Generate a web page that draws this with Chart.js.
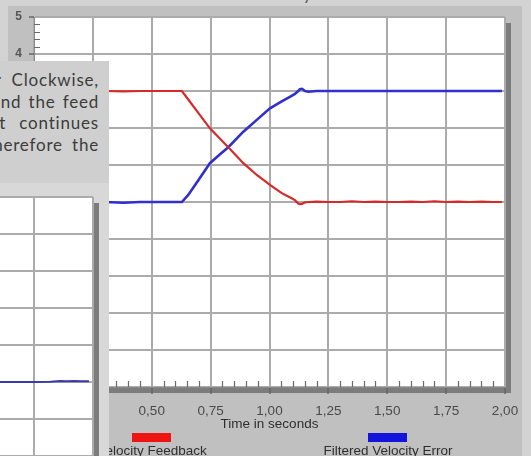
<!DOCTYPE html>
<html><head><meta charset="utf-8">
<script src="https://cdn.jsdelivr.net/npm/chart.js@4/dist/chart.umd.min.js"></script>
<style>
html,body{margin:0;padding:0;}
body{width:531px;height:456px;background:#d3d3d3;position:relative;overflow:hidden;font-family:"Liberation Sans",Arial,sans-serif;}
#panel{position:absolute;left:8px;top:6px;width:514px;height:450px;background:#c0c0c0;}
#main{position:absolute;left:0;top:0;}
#textbox{position:absolute;left:0;top:61px;width:109px;height:122px;background:#cfcfcf;overflow:hidden;}
.tl{position:absolute;right:10px;white-space:nowrap;font-family:Lato,"Open Sans",sans-serif;font-size:17px;line-height:17px;letter-spacing:0.8px;color:#3c3c3c;}
#mini{position:absolute;left:0;top:183px;width:109px;height:273px;background:#d8d8d8;overflow:hidden;}
#minicv{position:absolute;left:-143px;top:0;}
.lgbox{position:absolute;height:9px;width:39px;}
.lgtxt{position:absolute;width:200px;text-align:center;font-size:13.5px;line-height:12px;color:#2e2e2e;white-space:nowrap;}
#topy{position:absolute;left:303px;top:-15px;font-family:Lato,sans-serif;font-size:17px;line-height:17px;color:#555;}
</style></head>
<body>
<div id="topy">y</div>
<div id="panel"><canvas id="main" width="514" height="450"></canvas></div>
<div class="lgbox" style="left:132px;top:433px;background:#ee1414;"></div>
<div class="lgbox" style="left:368px;top:433px;background:#1414dc;"></div>
<div class="lgtxt" style="left:52px;top:445px;">Velocity Feedback</div>
<div class="lgtxt" style="left:288px;top:445px;">Filtered Velocity Error</div>
<div id="textbox">
  <div class="tl" style="top:10px;word-spacing:5px;">r Clockwise,</div>
  <div class="tl" style="top:32px;word-spacing:2px;">nd the feed</div>
  <div class="tl" style="top:53px;word-spacing:8px;">t continues</div>
  <div class="tl" style="top:75px;word-spacing:4px;">herefore the</div>
</div>
<div id="mini"><canvas id="minicv" width="256" height="404"></canvas></div>
<script>
// ---- data ----
const TIME = [0.00,0.10,0.20,0.30,0.38,0.45,0.50,0.60,0.628,0.655,0.70,0.747,0.79,0.825,0.889,0.946,1.002,1.052,1.094,1.108,1.122,1.129,1.138,1.151,1.165,1.20,1.25,1.30,1.35,1.40,1.45,1.50,1.55,1.60,1.65,1.70,1.75,1.80,1.85,1.90,1.95,1.987];
const VELOCITY_FEEDBACK = [3.00,3.00,3.01,3.00,2.99,3.00,3.00,3.00,3.00,2.77,2.39,1.99,1.71,1.48,1.05,0.73,0.46,0.24,0.10,0.05,-0.04,-0.06,-0.05,-0.01,0.00,0.01,0.00,0.00,0.02,0.00,0.01,0.00,0.00,0.01,0.00,0.02,0.00,0.01,0.00,0.01,0.00,0.00];
const FILTERED_VELOCITY_ERROR = [0.00,0.00,0.00,0.00,-0.02,0.00,0.00,0.00,0.00,0.19,0.61,1.05,1.29,1.48,1.90,2.22,2.53,2.72,2.87,2.92,3.00,3.05,3.06,3.00,2.98,3.00,3.00,3.00,3.00,3.00,3.00,3.00,3.00,3.00,3.00,3.00,3.00,3.00,3.00,3.00,3.00,3.00];
const MINI_TIME = [1.00,1.20,1.40,1.60,1.75,1.82,1.86,1.89,1.92,1.95,1.983];
const MINI_VALUES = [0.00,0.00,0.00,0.00,0.00,0.01,0.03,0.02,0.03,0.02,0.02];
const X_TICK_STEP = 0.25, X_MIN = 0, X_MAX = 2;
const Y_MIN = -5, Y_MAX = 5;

const pts = (xs, ys) => xs.map((x, i) => ({x, y: ys[i]}));
const fmt = v => Number(v).toFixed(2).replace('.', ',');

const decor = {
  id: 'decor',
  beforeDraw(chart) {
    const {ctx, chartArea: a} = chart;
    ctx.save();
    ctx.fillStyle = '#7c7c7c';
    ctx.fillRect(a.right + 1, a.top + 6, 5, a.bottom - a.top);
    ctx.fillRect(a.left, a.bottom + 1, a.right - a.left + 6, 5);
    ctx.fillStyle = '#ffffff';
    ctx.fillRect(a.left, a.top, a.right - a.left, a.bottom - a.top);
    ctx.restore();
  },
  afterDraw(chart, args, opts) {
    if (!opts.minor) return;
    const {ctx, chartArea: a, scales} = chart;
    ctx.save();
    ctx.strokeStyle = '#6a6a6a';
    ctx.lineWidth = 1.2;
    ctx.beginPath();
    for (let k = 0; k <= 40; k++) {
      if (k % 5 === 0) continue;
      const px = Math.round(scales.x.getPixelForValue(k * 0.05)) + 0.5;
      ctx.moveTo(px, a.bottom); ctx.lineTo(px, a.bottom - 6);
    }
    for (let k = -25; k <= 25; k++) {
      if (k % 5 === 0) continue;
      const py = Math.round(scales.y.getPixelForValue(k * 0.2)) + 0.5;
      ctx.moveTo(a.left, py); ctx.lineTo(a.left + 6, py);
    }
    ctx.stroke();
    ctx.restore();
  }
};

const gridOpts = {color: '#ababab', lineWidth: 2};

new Chart(document.getElementById('main'), {
  type: 'line',
  data: {datasets: [
    {label: 'Velocity Feedback', data: pts(TIME, VELOCITY_FEEDBACK), borderColor: '#d42a2a', borderWidth: 2.2, pointRadius: 0, tension: 0},
    {label: 'Filtered Velocity Error', data: pts(TIME, FILTERED_VELOCITY_ERROR), borderColor: '#3030cc', borderWidth: 2.6, pointRadius: 0, tension: 0}
  ]},
  options: {
    responsive: false, devicePixelRatio: 1, animation: false,
    layout: {padding: {left: 0, right: 17, top: 11, bottom: 0}},
    plugins: {legend: {display: false}, tooltip: {enabled: false}, decor: {minor: true}},
    scales: {
      x: {type: 'linear', min: X_MIN, max: X_MAX,
        ticks: {stepSize: X_TICK_STEP, callback: v => fmt(v), color: '#4a4a4a', padding: 9, maxRotation: 0,
          font: {family: '"Liberation Sans", Arial', size: 13.5}},
        grid: {...gridOpts, tickLength: 7, tickColor: '#666', tickWidth: 1.5},
        border: {display: true, color: '#8a8a8a', width: 1},
        title: {display: true, text: 'Time in seconds', color: '#2e2e2e', padding: {top: 0, bottom: 24},
          font: {family: '"Liberation Sans", Arial', size: 13.5}},
        afterFit: s => { s.height = 69; s.paddingLeft = 0; s.paddingRight = 0; }
      },
      y: {min: Y_MIN, max: Y_MAX,
        ticks: {stepSize: 1, color: '#555', padding: 7, font: {family: '"Liberation Sans", Arial', size: 12, weight: 'bold'}},
        grid: {...gridOpts, tickLength: 5, tickColor: '#666', tickWidth: 1.5},
        border: {display: true, color: '#8a8a8a', width: 1},
        afterFit: s => { s.width = 26; s.paddingTop = 0; s.paddingBottom = 0; }
      }
    }
  },
  plugins: [decor]
});

new Chart(document.getElementById('minicv'), {
  type: 'line',
  data: {datasets: [
    {label: 'Filtered Velocity Error', data: pts(MINI_TIME, MINI_VALUES), borderColor: '#3a3aa8', borderWidth: 2, pointRadius: 0, tension: 0}
  ]},
  options: {
    responsive: false, devicePixelRatio: 1, animation: false,
    layout: {padding: {left: 0, right: 20, top: 14, bottom: 20}},
    plugins: {legend: {display: false}, tooltip: {enabled: false}, decor: {minor: false}},
    scales: {
      x: {type: 'linear', min: 1, max: 2, ticks: {display: false, stepSize: X_TICK_STEP},
        grid: {...gridOpts, drawTicks: false}, border: {display: false},
        afterFit: s => { s.height = 0; s.paddingLeft = 0; s.paddingRight = 0; }},
      y: {min: Y_MIN, max: Y_MAX, ticks: {display: false, stepSize: 1},
        grid: {...gridOpts, drawTicks: false}, border: {display: false},
        afterFit: s => { s.width = 0; s.paddingTop = 0; s.paddingBottom = 0; }}
    }
  },
  plugins: [decor]
});
</script>
</body></html>
